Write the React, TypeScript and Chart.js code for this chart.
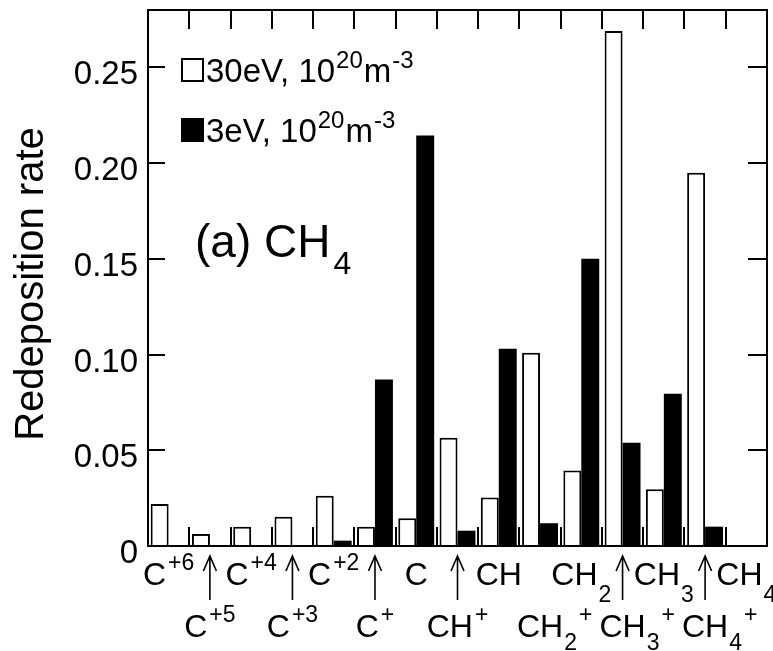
import React, { useEffect, useRef } from 'react';
import { Chart, registerables } from 'chart.js';

Chart.register(...registerables);

// ---- data ----
const labelBase = ['C', 'C', 'C', 'C', 'C', 'C', 'C', 'CH', 'CH', 'CH', 'CH', 'CH', 'CH', 'CH', 'CH'];
const labelSub = ['', '', '', '', '', '', '', '', '', '2', '2', '3', '3', '4', '4'];
const labelSup = ['+6', '+5', '+4', '+3', '+2', '+', '', '+', '', '+', '', '+', '', '+', ''];
const labelLowerRow = [false, true, false, true, false, true, false, true, false, true, false, true, false, true, false];
const labelArrow = [false, true, false, true, false, true, false, true, false, false, false, true, false, true, false];
const categories = labelBase.map((b, i) => b + labelSub[i] + labelSup[i]);

const series30eV = [0.022, 0.0063, 0.0101, 0.0153, 0.0263, 0.0101, 0.0145, 0.0566, 0.0253, 0.101, 0.0394, 0.269, 0.0297, 0.195, 0];
const series3eV = [0, 0, 0, 0, 0.0028, 0.087, 0.2145, 0.008, 0.103, 0.0119, 0.15, 0.054, 0.0795, 0.0101, 0];

const yTickValues = [0, 0.05, 0.1, 0.15, 0.2, 0.25];
const yTickLabels = ['0', '0.05', '0.10', '0.15', '0.20', '0.25'];
const yTitle = 'Redeposition rate';
const legendLabels = ['30eV, 10', '3eV, 10'];
const legendSup1 = '20';
const legendUnit = 'm';
const legendSup2 = '-3';
const panelTitle = '(a) CH';
const panelSub = '4';

const FONT = '"Liberation Sans", Arial, Helvetica, sans-serif';

type Seg = { t: string; size: number; dy: number; gap?: number };

function segWidth(ctx: CanvasRenderingContext2D, segs: Seg[]) {
  let w = 0;
  for (const s of segs) {
    if (!s.t) continue;
    ctx.font = `${s.size}px ${FONT}`;
    w += (s.gap || 0) + ctx.measureText(s.t).width;
  }
  return w;
}

function drawSegs(ctx: CanvasRenderingContext2D, segs: Seg[], x: number, baseline: number) {
  let cx = x;
  ctx.textAlign = 'left';
  ctx.textBaseline = 'alphabetic';
  for (const s of segs) {
    if (!s.t) continue;
    ctx.font = `${s.size}px ${FONT}`;
    cx += s.gap || 0;
    ctx.fillText(s.t, cx, baseline + s.dy);
    cx += ctx.measureText(s.t).width;
  }
  return cx;
}

const decor = {
  id: 'decor',
  afterDatasetsDraw(chart: any) {
    const ctx: CanvasRenderingContext2D = chart.ctx;
    const { left, right, top, bottom } = chart.chartArea;
    const xs = chart.scales.x;
    const ys = chart.scales.y;
    ctx.save();
    ctx.strokeStyle = '#000';
    ctx.fillStyle = '#000';
    ctx.lineWidth = 2;
    ctx.lineCap = 'butt';

    // frame
    ctx.beginPath();
    ctx.moveTo(left, bottom);
    ctx.lineTo(left, top);
    ctx.lineTo(right, top);
    ctx.lineTo(right, bottom);
    ctx.lineTo(left - 1, bottom);
    ctx.stroke();

    // y ticks (inward, both sides) + labels
    yTickValues.forEach((v, i) => {
      const py = Math.round(ys.getPixelForValue(v));
      ctx.beginPath();
      ctx.moveTo(left, py);
      ctx.lineTo(left + 17, py);
      ctx.moveTo(right - 19, py);
      ctx.lineTo(right, py);
      ctx.stroke();
      ctx.font = `33px ${FONT}`;
      ctx.textAlign = 'right';
      ctx.textBaseline = 'alphabetic';
      ctx.fillText(yTickLabels[i], left - 10, py + 17);
    });

    // x boundary ticks (inward, top and bottom)
    const n = categories.length;
    for (let i = 0; i < n - 1; i++) {
      const bx = Math.round((xs.getPixelForValue(i) + xs.getPixelForValue(i + 1)) / 2);
      ctx.beginPath();
      ctx.moveTo(bx, top);
      ctx.lineTo(bx, top + 19);
      ctx.moveTo(bx, bottom);
      ctx.lineTo(bx, bottom - 19);
      ctx.stroke();
    }

    // x category labels
    for (let i = 0; i < n; i++) {
      const cx = xs.getPixelForValue(i);
      const lower = labelLowerRow[i];
      const baseline = lower ? 637 : 585;
      const segs: Seg[] = [
        { t: labelBase[i], size: 32, dy: 0 },
        { t: labelSub[i], size: 23, dy: lower ? 13 : 17, gap: 1 },
        { t: labelSup[i], size: 23, dy: -15, gap: 2 },
      ];
      let x0: number;
      if (lower && labelSub[i]) {
        ctx.font = `32px ${FONT}`;
        x0 = cx - ctx.measureText(labelBase[i]).width / 2;
      } else {
        x0 = cx - segWidth(ctx, segs) / 2;
      }
      drawSegs(ctx, segs, x0, baseline);
      if (labelArrow[i]) {
        ctx.lineWidth = 1.6;
        ctx.beginPath();
        ctx.moveTo(cx, 600);
        ctx.lineTo(cx, 556);
        ctx.moveTo(cx - 6.5, 571);
        ctx.lineTo(cx, 556);
        ctx.lineTo(cx + 6.5, 571);
        ctx.stroke();
        ctx.lineWidth = 2;
      }
    }

    // y title
    ctx.save();
    ctx.translate(43, 284);
    ctx.rotate(-Math.PI / 2);
    ctx.font = `40px ${FONT}`;
    ctx.textAlign = 'center';
    ctx.textBaseline = 'alphabetic';
    ctx.fillText(yTitle, 0, 0);
    ctx.restore();

    // legend
    const rows = [
      { base: 82, filled: false },
      { base: 142, filled: true },
    ];
    rows.forEach((r, i) => {
      const sx = 181, sy = r.base - 24, sw = 23, sh = 24;
      if (r.filled) {
        ctx.fillRect(sx, sy, sw, sh);
      } else {
        ctx.lineWidth = 2;
        ctx.strokeRect(sx + 1, sy + 1, sw - 2, sh - 2);
      }
      drawSegs(
        ctx,
        [
          { t: legendLabels[i], size: 33, dy: 0 },
          { t: legendSup1, size: 24, dy: -14, gap: 1 },
          { t: legendUnit, size: 33, dy: 0, gap: 1 },
          { t: legendSup2, size: 24, dy: -14, gap: 1 },
        ],
        sx + sw + 2,
        r.base
      );
    });

    // panel title
    drawSegs(
      ctx,
      [
        { t: panelTitle, size: 46, dy: 0 },
        { t: panelSub, size: 32, dy: 17, gap: 3 },
      ],
      195,
      257
    );

    ctx.restore();
  },
};

export default function App() {
  const ref = useRef<HTMLCanvasElement>(null);
  useEffect(() => {
    const chart = new Chart(ref.current as HTMLCanvasElement, {
      type: 'bar',
      data: {
        labels: categories,
        datasets: [
          {
            label: '30eV',
            data: series30eV,
            backgroundColor: '#ffffff',
            borderColor: '#000000',
            borderWidth: 2,
            borderSkipped: 'start',
            categoryPercentage: 0.87,
            barPercentage: 1,
          },
          {
            label: '3eV',
            data: series3eV,
            backgroundColor: '#000000',
            borderWidth: 0,
            categoryPercentage: 0.87,
            barPercentage: 1,
          },
        ],
      },
      options: {
        responsive: false,
        animation: false,
        devicePixelRatio: 1,
        layout: { padding: { left: 148, top: 10, right: 6, bottom: 105 } },
        plugins: { legend: { display: false }, tooltip: { enabled: false } },
        scales: {
          x: { display: false, offset: true, grid: { display: false } },
          y: { display: false, min: 0, max: 0.28 },
        },
      },
      plugins: [decor],
    } as any);
    return () => chart.destroy();
  }, []);
  return (
    <div style={{ position: 'fixed', left: 0, top: 0, width: 773, height: 651, background: '#fff' }}>
      <canvas ref={ref} width={773} height={651} style={{ display: 'block', width: 773, height: 651 }} />
    </div>
  );
}
